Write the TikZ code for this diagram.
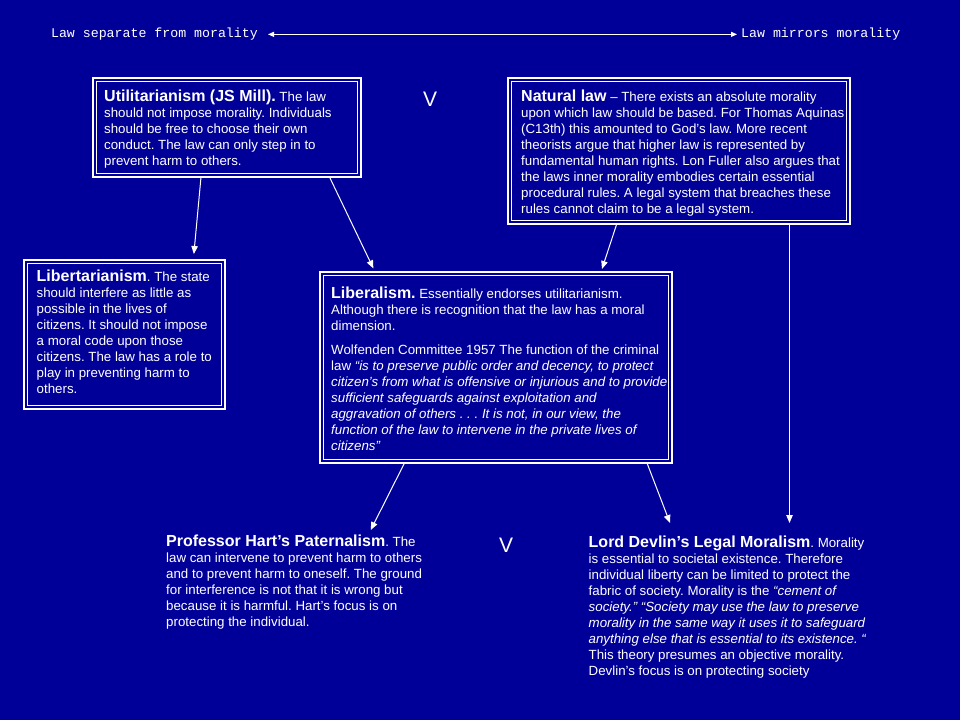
\documentclass[tikz,border=0pt]{standalone}
\usepackage{fontspec}
\setmainfont{Liberation Sans}
\newfontfamily\monofam{Liberation Mono}
\usetikzlibrary{arrows.meta}
\definecolor{bg}{RGB}{0,0,153}
\newcommand\boldhead[1]{{\bfseries\fontsize{16}{16}\selectfont #1}}
\frenchspacing
\begin{document}
\begin{tikzpicture}[x=1pt,y=-1pt,
  txt/.style={anchor=north west, inner sep=0, align=left, text=white, font=\fontsize{13.3}{16}\selectfont},
  toplbl/.style={inner sep=0, text=white, font=\monofam\fontsize{13.25}{16}\selectfont},
  box/.style={draw=white, line width=1.8pt, anchor=north west, inner sep=0, outer sep=0},
  inbox/.style={draw=white, line width=0.9pt},
  arr/.style={draw=white, line width=1pt, -{Triangle[length=8pt,width=6.5pt]}},
  vee/.style={inner sep=0, text=white, font=\fontsize{21}{21}\selectfont}
]
\fill[bg] (0,0) rectangle (960,720);
\useasboundingbox (0,0) rectangle (960,720);

% top scale
\node[toplbl, anchor=base east] (lsep) at (258,37) {Law separate from morality};
\node[toplbl, anchor=base west] (lmir) at (741,37) {Law mirrors morality};
\draw[white, line width=1pt, {Triangle[length=6pt,width=5pt]}-{Triangle[length=6pt,width=5pt]}]
  ([xshift=10pt]lsep.mid east) -- ([xshift=-4pt]lmir.mid west);

% boxes
\node[box, minimum width=268pt, minimum height=99pt] (util) at (93,78) {};
\draw[inbox] ([shift={(3.5,3.5)}]util.north west) rectangle ([shift={(-3.5,-3.5)}]util.south east);
\node[box, minimum width=342pt, minimum height=146pt] (nat) at (508,78) {};
\draw[inbox] ([shift={(3.5,3.5)}]nat.north west) rectangle ([shift={(-3.5,-3.5)}]nat.south east);
\node[box, minimum width=201pt, minimum height=149pt] (lib) at (24,260) {};
\draw[inbox] ([shift={(3.5,3.5)}]lib.north west) rectangle ([shift={(-3.5,-3.5)}]lib.south east);
\node[box, minimum width=352pt, minimum height=191pt] (libz) at (320,272) {};
\draw[inbox] ([shift={(3.5,3.5)}]libz.north west) rectangle ([shift={(-3.5,-3.5)}]libz.south east);

% texts
\node[txt] (utilt) at (104,89.5) {\boldhead{Utilitarianism (JS Mill).} The law\\
should not impose morality. Individuals\\
should be free to choose their own\\
conduct. The law can only step in to\\
prevent harm to others.};

\node[txt] (natt) at (521,89.5) {\boldhead{Natural law} – There exists an absolute morality\\
upon which law should be based. For Thomas Aquinas\\
(C13th) this amounted to God’s law. More recent\\
theorists argue that higher law is represented by\\
fundamental human rights. Lon Fuller also argues that\\
the laws inner morality embodies certain essential\\
procedural rules. A legal system that breaches these\\
rules cannot claim to be a legal system.};

\node[txt] (libt) at (36.5,269.5) {\boldhead{Libertarianism}. The state\\
should interfere as little as\\
possible in the lives of\\
citizens. It should not impose\\
a moral code upon those\\
citizens. The law has a role to\\
play in preventing harm to\\
others.};

\node[txt] (libzt) at (331,287) {\boldhead{Liberalism.} Essentially endorses utilitarianism.\\
Although there is recognition that the law has a moral\\
dimension.\\[8pt]
Wolfenden Committee 1957 The function of the criminal\\
law \textit{“is to preserve public order and decency, to protect}\\
\textit{citizen’s from what is offensive or injurious and to provide}\\
\textit{sufficient safeguards against exploitation and}\\
\textit{aggravation of others . . . It is not, in our view, the}\\
\textit{function of the law to intervene in the private lives of}\\
\textit{citizens”}};

\node[txt] (hart) at (166,535) {\boldhead{Professor Hart’s Paternalism}. The\\
law can intervene to prevent harm to others\\
and to prevent harm to oneself. The ground\\
for interference is not that it is wrong but\\
because it is harmful. Hart’s focus is on\\
protecting the individual.};

\node[txt] (devl) at (588.5,536) {\boldhead{Lord Devlin’s Legal Moralism}. Morality\\
is essential to societal existence. Therefore\\
individual liberty can be limited to protect the\\
fabric of society. Morality is the \textit{“cement of}\\
\textit{society.” “Society may use the law to preserve}\\
\textit{morality in the same way it uses it to safeguard}\\
\textit{anything else that is essential to its existence. “}\\
This theory presumes an objective morality.\\
Devlin’s focus is on protecting society};

% V marks
\node[vee] (v1) at (430,99.5) {V};
\node[vee] (v2) at (506,545) {V};

% connectors
\draw[arr, shorten >=6pt] (201,0 |- util.south) -- (193.3,0 |- lib.north);
\draw[arr, shorten >=4pt] (329.5,0 |- util.south) -- (375.1,0 |- libz.north);
\draw[arr, shorten >=3.2pt] (616.7,0 |- nat.south) -- (601,0 |- libz.north);
\draw[arr, shorten >=13pt] (789.5,0 |- nat.south) -- (789.5,0 |- devl.north);
\draw[arr, shorten >=5.6pt] (404.5,0 |- libz.south) -- (368.2,0 |- hart.north);
\draw[arr, shorten >=13.9pt] (647,0 |- libz.south) -- (675,0 |- devl.north);
\end{tikzpicture}
\end{document}
